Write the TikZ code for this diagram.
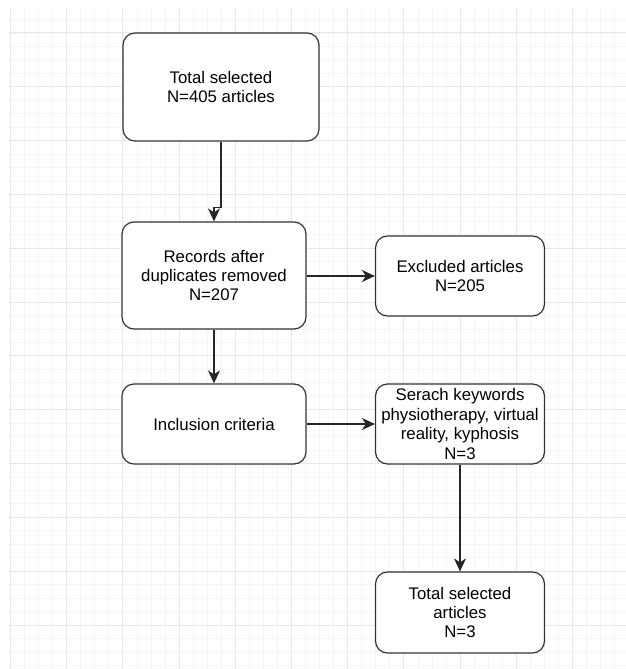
\documentclass[tikz,border=0pt]{standalone}
\usepackage{fontspec}
\setmainfont{Liberation Sans}
\usetikzlibrary{arrows.meta}
\begin{document}
\begin{tikzpicture}[x=1pt,y=-1pt,
  box/.style={draw=black!80, line width=1.2pt, rounded corners=12pt, fill=white,
    align=center, inner sep=0pt, font=\fontsize{16.8}{19.4}\selectfont},
  arr/.style={draw=black!85, line width=1.3pt, -{Stealth[length=13pt,width=12pt,inset=4pt]}},
  gridminor/.style={draw=black!4, line width=0.9pt},
  gridmajor/.style={draw=black!9, line width=1pt}]
\useasboundingbox (0,0) rectangle (626,669);
\fill[white] (0,0) rectangle (626,669);
\begin{scope}
  \clip (9,8) rectangle (626,669);
  \foreach \i in {0,...,44} \draw[gridminor] ({10.5+14.05*\i},8) -- ({10.5+14.05*\i},669);
  \foreach \i in {-2,...,47} \draw[gridminor] (9,{33+13.455*\i}) -- (626,{33+13.455*\i});
  \foreach \i in {0,...,11} \draw[gridmajor] ({10.5+56.2*\i},8) -- ({10.5+56.2*\i},669);
  \foreach \i in {0,...,11} \draw[gridmajor] (9,{33+53.82*\i}) -- (626,{33+53.82*\i});
\end{scope}

\node[box, minimum width=196pt, minimum height=108pt] (b1) at (221,87) {Total selected\\N=405 articles};
\node[box, minimum width=184pt, minimum height=107pt] (b2) at (214,275.5) {Records after\\duplicates removed\\N=207};
\node[box, minimum width=169pt, minimum height=80pt] (b3) at (460,276) {Excluded articles\\N=205};
\node[box, minimum width=184pt, minimum height=80pt] (b4) at (214,424) {Inclusion criteria};
\node[box, minimum width=169pt, minimum height=80pt] (b5) at (460,424) {Serach keywords\\physiotherapy, virtual\\reality, kyphosis\\N=3};
\node[box, minimum width=169pt, minimum height=81pt] (b6) at (460,612.5) {Total selected\\articles\\N=3};

\draw[arr] (b1.south) -- ++(0,66) -| (b2.north);
\draw[arr] (b2.east |- b3.west) -- (b3.west);
\draw[arr] (b2.south) -- (b4.north);
\draw[arr] (b4.east) -- (b5.west);
\draw[arr] (b5.south) -- (b6.north);
\end{tikzpicture}
\end{document}
